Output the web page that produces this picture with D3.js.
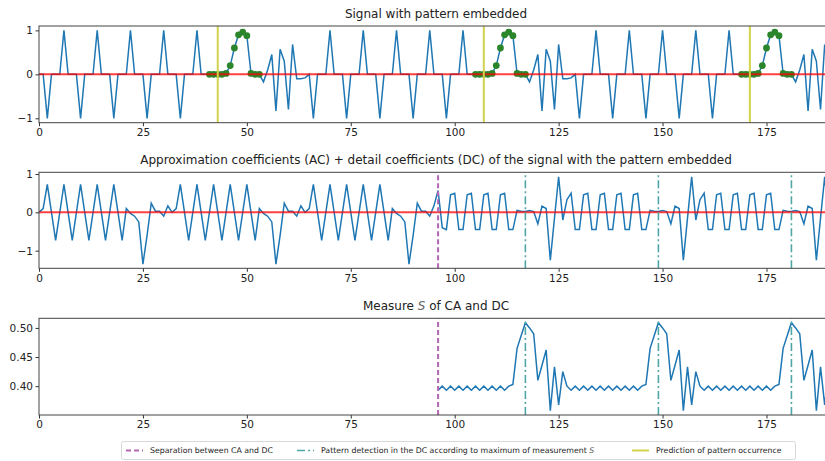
<!DOCTYPE html>
<html>
<head>
<meta charset="utf-8">
<script src="https://cdn.jsdelivr.net/npm/d3@7"></script>
<style>
  body { margin: 0; background: #fff; }
  svg { display: block; font-family: "DejaVu Sans", sans-serif; }
</style>
</head>
<body>
<div id="chart"></div>
<script>
// signal with the pattern embedded (192 samples)
var signal = [
  0, 0, -1, 0, 0, 0, 1, 0,
  0, 0, -1, 0, 0, 0, 1, 0,
  0, 0, -1, 0, 0, 0, 1, 0,
  0, 0, -1, 0, 0, 0, 1, 0,
  0, 0, -1, 0, 0, 0, 1, 0,
  0, 0, 0, 0, 0, 0.02, 0.2, 0.6,
  0.9, 0.96, 0.88, 0.02, 0, 0, -0.17, 0.1,
  0.45, -0.83, 0.57, 0.3, -0.8, 0.68, -0.1, -0.1,
  -0.08, 0, -1, 0, 0, 0, 1, 0,
  0, 0, -1, 0, 0, 0, 1, 0,
  0, 0, -1, 0, 0, 0, 1, 0,
  0, 0, -1, 0, 0, 0, 1, 0,
  0, 0, -1, 0, 0, 0, 1, 0,
  0, 0, 0, 0, 0, 0.02, 0.2, 0.6,
  0.9, 0.96, 0.88, 0.02, 0, 0, -0.17, 0.1,
  0.45, -0.83, 0.57, 0.3, -0.8, 0.68, -0.1, -0.1,
  -0.08, 0, -1, 0, 0, 0, 1, 0,
  0, 0, -1, 0, 0, 0, 1, 0,
  0, 0, -1, 0, 0, 0, 1, 0,
  0, 0, -1, 0, 0, 0, 1, 0,
  0, 0, -1, 0, 0, 0, 1, 0,
  0, 0, 0, 0, 0, 0.02, 0.2, 0.6,
  0.9, 0.96, 0.88, 0.02, 0, 0, -0.17, 0.1,
  0.45, -0.83, 0.57, 0.3, -0.8, 0.68, -0.1, -0.1
];

// approximation coefficients (0-95) followed by detail coefficients (96-191)
var coeffs = [
  0, 0.1, 0.73, 0, -0.73, 0, 0.73, 0,
  -0.73, 0, 0.73, 0, -0.73, 0, 0.73, 0,
  -0.73, 0, 0.73, 0, -0.73, 0.1, -0.03, -0.1,
  -0.25, -1.35, -0.6, 0.24, 0.03, 0.03, -0.1, 0.17,
  0, 0.1, 0.73, 0, -0.73, 0, 0.73, 0,
  -0.73, 0, 0.73, 0, -0.73, 0, 0.73, 0,
  -0.73, 0, 0.73, 0, -0.73, 0.1, -0.03, -0.1,
  -0.25, -1.35, -0.6, 0.24, 0.03, 0.03, -0.1, 0.17,
  0, 0.1, 0.73, 0, -0.73, 0, 0.73, 0,
  -0.73, 0, 0.73, 0, -0.73, 0, 0.73, 0,
  -0.73, 0, 0.73, 0, -0.73, 0.1, -0.03, -0.1,
  -0.25, -1.35, -0.6, 0.24, 0.03, 0.03, -0.1, 0.17,
  0.57, -0.4, -0.45, 0.46, 0.5, -0.45, -0.45, 0.46,
  0.5, -0.45, -0.45, 0.46, 0.5, -0.45, -0.45, 0.46,
  0.5, -0.45, -0.45, 0.05, 0.03, 0.02, 0.05, 0.02,
  -0.3, 0.16, 0.1, -1.25, -0.15, 0.93, -0.2, 0.33,
  0.5, -0.45, -0.45, 0.46, 0.5, -0.45, -0.45, 0.46,
  0.5, -0.45, -0.45, 0.46, 0.5, -0.45, -0.45, 0.46,
  0.5, -0.45, -0.45, 0.05, 0.03, 0.02, 0.05, 0.02,
  -0.3, 0.16, 0.1, -1.25, -0.15, 0.93, -0.2, 0.33,
  0.5, -0.45, -0.45, 0.46, 0.5, -0.45, -0.45, 0.46,
  0.5, -0.45, -0.45, 0.46, 0.5, -0.45, -0.45, 0.46,
  0.5, -0.45, -0.45, 0.05, 0.03, 0.02, 0.05, 0.02,
  -0.3, 0.16, 0.1, -1.25, -0.15, 0.93, -0.2, 0.33
];

// measure S, starts at the separation index 96
var measureStart = 96;
var measureS = [
  0.393, 0.40, 0.393, 0.40, 0.393, 0.40, 0.393, 0.40,
  0.393, 0.40, 0.393, 0.40, 0.393, 0.40, 0.393, 0.40,
  0.393, 0.40, 0.403, 0.465, 0.487, 0.509, 0.50, 0.49,
  0.41, 0.436, 0.462, 0.358, 0.433, 0.368, 0.425, 0.40,
  0.393, 0.40, 0.393, 0.40, 0.393, 0.40, 0.393, 0.40,
  0.393, 0.40, 0.393, 0.40, 0.393, 0.40, 0.393, 0.40,
  0.393, 0.40, 0.403, 0.465, 0.487, 0.509, 0.50, 0.49,
  0.41, 0.436, 0.462, 0.358, 0.433, 0.368, 0.425, 0.40,
  0.393, 0.40, 0.393, 0.40, 0.393, 0.40, 0.393, 0.40,
  0.393, 0.40, 0.393, 0.40, 0.393, 0.40, 0.393, 0.40,
  0.393, 0.40, 0.403, 0.465, 0.487, 0.509, 0.50, 0.49,
  0.41, 0.436, 0.462, 0.358, 0.433, 0.368, 0.425, 0.40
];

var patternStarts = [41, 105, 169];
var patternLength = 13;
var predictions = [43, 107, 171];
var detections = [117, 149, 181];
var separation = 96;

var xTicks = [0, 25, 50, 75, 100, 125, 150, 175];
var signalTicks = [-1, 0, 1];
var coeffTicks = [-1, 0, 1];
var measureTicks = [0.40, 0.45, 0.50];

var legendLabels = [
  "Separation between CA and DC",
  "Pattern detection in the DC according to maximum of measurement ",
  "Prediction of pattern occurrence"
];

var width = 825, height = 461;
var blue = "#1f77b4";
var purple = "#b366b3";
var teal = "#4ea6a6";
var yellow = "#d2d24d";

var svg = d3.select("#chart").append("svg")
  .attr("width", width)
  .attr("height", height);

var xScale = d3.scaleLinear().domain([0, 191]).range([39, 833]);

function minusFormat(d) {
  return d < 0 ? "\u2212" + Math.abs(d) : String(d);
}

// frame, ticks and title for one subplot
function makePanel(cfg) {
  var y = d3.scaleLinear().domain(cfg.yDomain).range([cfg.bottom, cfg.top]);
  var g = svg.append("g");

  var clipId = "clip" + cfg.id;
  svg.append("clipPath").attr("id", clipId)
    .append("rect")
    .attr("x", xScale.range()[0]).attr("y", cfg.top)
    .attr("width", xScale.range()[1] - xScale.range()[0])
    .attr("height", cfg.bottom - cfg.top);

  var plot = g.append("g").attr("clip-path", "url(#" + clipId + ")");

  var xAxis = g.append("g")
    .attr("transform", "translate(0," + cfg.bottom + ")")
    .call(d3.axisBottom(xScale).tickValues(xTicks).tickSize(3.5).tickPadding(2.5));
  var yAxis = g.append("g")
    .attr("transform", "translate(" + xScale.range()[0] + ",0)")
    .call(d3.axisLeft(y).tickValues(cfg.ticks).tickSize(3.5).tickPadding(2.5).tickFormat(cfg.format));

  [xAxis, yAxis].forEach(function(a) {
    a.attr("font-family", "DejaVu Sans").attr("font-size", 10.5).attr("color", "#333");
    a.select(".domain").remove();
    a.selectAll("text").attr("fill", "#222");
  });

  g.append("rect")
    .attr("x", xScale.range()[0]).attr("y", cfg.top)
    .attr("width", xScale.range()[1] - xScale.range()[0])
    .attr("height", cfg.bottom - cfg.top)
    .attr("fill", "none")
    .attr("stroke", "#444")
    .attr("stroke-width", 1);

  var title = g.append("text")
    .attr("x", (xScale.range()[0] + xScale.range()[1]) / 2)
    .attr("y", cfg.top - 8)
    .attr("text-anchor", "middle")
    .attr("font-size", 12)
    .attr("fill", "#222");
  cfg.title.forEach(function(part) {
    title.append("tspan")
      .attr("font-style", part.italic ? "italic" : null)
      .attr("fill", part.italic ? "#666" : null)
      .text(part.text);
  });

  return {plot: plot, y: y};
}

function vline(panel, x, color, dash, w) {
  panel.plot.append("line")
    .attr("x1", xScale(x)).attr("x2", xScale(x))
    .attr("y1", panel.y.range()[0]).attr("y2", panel.y.range()[1])
    .attr("stroke", color)
    .attr("stroke-width", w)
    .attr("stroke-dasharray", dash);
}

function hzero(panel) {
  panel.plot.append("line")
    .attr("x1", xScale.range()[0]).attr("x2", xScale.range()[1])
    .attr("y1", panel.y(0)).attr("y2", panel.y(0))
    .attr("stroke", "#ff0000")
    .attr("stroke-opacity", 0.75)
    .attr("stroke-width", 2);
}

// Panel 1: signal
var p1 = makePanel({id: 1, top: 26, bottom: 122.7, yDomain: [-1.1, 1.1], ticks: signalTicks,
  format: minusFormat, title: [{text: "Signal with pattern embedded"}]});

var line1 = d3.line()
  .x(function(d, i) { return xScale(i); })
  .y(function(d) { return p1.y(d); });

p1.plot.append("path")
  .datum(signal)
  .attr("d", line1)
  .attr("fill", "none")
  .attr("stroke", blue)
  .attr("stroke-width", 1.5);

var patternPoints = [];
patternStarts.forEach(function(s) {
  for (var k = s; k < s + patternLength; k++) patternPoints.push(k);
});
p1.plot.selectAll(".pdot")
  .data(patternPoints)
  .enter().append("circle")
  .attr("class", "pdot")
  .attr("cx", function(d) { return xScale(d); })
  .attr("cy", function(d) { return p1.y(signal[d]); })
  .attr("r", 3.4)
  .attr("fill", "#2b862b");

hzero(p1);
predictions.forEach(function(d) { vline(p1, d, yellow, null, 2); });

// Panel 2: coefficients
var p2 = makePanel({id: 2, top: 172.3, bottom: 268.3, yDomain: [-1.46, 1.045], ticks: coeffTicks,
  format: minusFormat,
  title: [{text: "Approximation coefficients (AC) + detail coefficients (DC) of the signal with the pattern embedded"}]});

var line2 = d3.line()
  .x(function(d, i) { return xScale(i); })
  .y(function(d) { return p2.y(d); });

p2.plot.append("path")
  .datum(coeffs)
  .attr("d", line2)
  .attr("fill", "none")
  .attr("stroke", blue)
  .attr("stroke-width", 1.5);

hzero(p2);
vline(p2, separation, purple, "5,3", 2);
detections.forEach(function(d) { vline(p2, d, teal, "8,3,2,3", 1.6); });

// Panel 3: measure S
var p3 = makePanel({id: 3, top: 318.3, bottom: 415, yDomain: [0.3505, 0.5165], ticks: measureTicks,
  format: d3.format(".2f"),
  title: [{text: "Measure "}, {text: "S", italic: true}, {text: " of CA and DC"}]});

var line3 = d3.line()
  .x(function(d, i) { return xScale(measureStart + i); })
  .y(function(d) { return p3.y(d); });

p3.plot.append("path")
  .datum(measureS)
  .attr("d", line3)
  .attr("fill", "none")
  .attr("stroke", blue)
  .attr("stroke-width", 1.5);

vline(p3, separation, purple, "5,3", 2);
detections.forEach(function(d) { vline(p3, d, teal, "8,3,2,3", 1.6); });

// Legend
var legend = svg.append("g").attr("font-size", 7.8).attr("fill", "#222");
legend.append("rect")
  .attr("x", 121.5).attr("y", 441.5)
  .attr("width", 674).attr("height", 18)
  .attr("rx", 2)
  .attr("fill", "#fff")
  .attr("stroke", "#d8d8d8");

var legendItems = [
  {x: 126, color: purple, dash: "5,3", w: 2, label: [{text: legendLabels[0]}]},
  {x: 297, color: teal, dash: "8,3,2,3", w: 1.6, label: [{text: legendLabels[1]}, {text: "S", italic: true}]},
  {x: 632, color: yellow, dash: null, w: 2, label: [{text: legendLabels[2]}]}
];
legendItems.forEach(function(it) {
  legend.append("line")
    .attr("x1", it.x).attr("x2", it.x + 17)
    .attr("y1", 450.5).attr("y2", 450.5)
    .attr("stroke", it.color)
    .attr("stroke-width", it.w)
    .attr("stroke-dasharray", it.dash);
  var t = legend.append("text")
    .attr("x", it.x + 24)
    .attr("y", 453.3);
  it.label.forEach(function(part) {
    t.append("tspan")
      .attr("font-style", part.italic ? "italic" : null)
      .attr("fill", part.italic ? "#666" : null)
      .text(part.text);
  });
});
</script>
</body>
</html>
